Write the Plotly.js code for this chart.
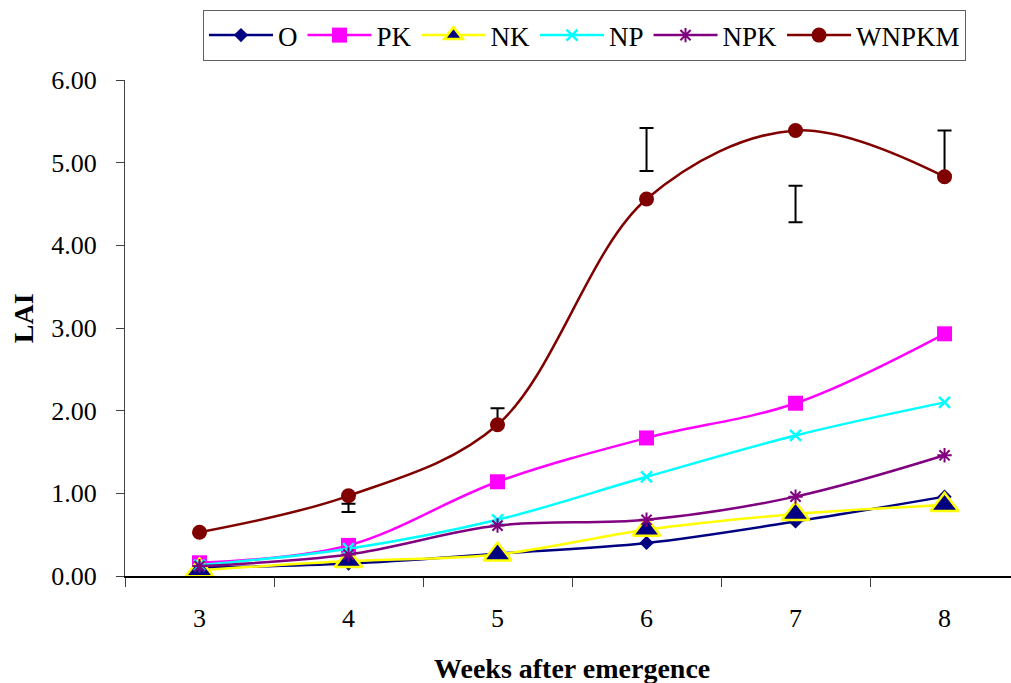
<!DOCTYPE html>
<html>
<head>
<meta charset="utf-8">
<script src="https://cdn.plot.ly/plotly-3.0.1.min.js"></script>
<style>
html,body{margin:0;padding:0;background:#fff;}
#chart{width:1011px;height:683px;}
</style>
</head>
<body>
<div id="chart"></div>
<script>
var weeks = ['3', '4', '5', '6', '7', '8'];
var seriesO     = [0.10, 0.15, 0.27, 0.40, 0.66, 0.96];
var seriesPK    = [0.16, 0.37, 1.14, 1.67, 2.09, 2.93];
var seriesNK    = [0.07, 0.18, 0.26, 0.56, 0.75, 0.86];
var seriesNP    = [0.13, 0.33, 0.68, 1.20, 1.70, 2.10];
var seriesNPK   = [0.12, 0.26, 0.61, 0.68, 0.96, 1.46];
var seriesWNPKM = [0.53, 0.97, 1.83, 4.56, 5.39, 4.83];
var errCenter   = [null, 0.825, 1.93, 5.16, 4.50, 5.12];
var errHalf     = [0, 0.05, 0.10, 0.26, 0.22, 0.27];
var yTicks      = [0, 1, 2, 3, 4, 5, 6];

var serif = 'Liberation Serif';

function line(name, y, color, marker) {
  return {
    type: 'scatter', mode: 'lines+markers', name: name, x: weeks, y: y,
    line: {color: color, width: 2.5, shape: 'spline', smoothing: 1},
    marker: marker
  };
}

var traces = [
  {type: 'scatter', mode: 'markers', x: weeks, y: errCenter, showlegend: false, hoverinfo: 'skip',
   marker: {color: 'rgba(0,0,0,0)', size: 1},
   error_y: {type: 'data', array: errHalf, visible: true, color: '#000', thickness: 2, width: 7}},
  line('O', seriesO, '#000080', {symbol: 'diamond', size: 11, color: '#000080'}),
  line('PK', seriesPK, '#FF00FF', {symbol: 'square', size: 15, color: '#FF00FF'}),
  line('NK', seriesNK, '#FFFF00', {symbol: 'triangle-up', size: 24, color: '#000080', line: {color: '#FFFF00', width: 2.5}}),
  line('NP', seriesNP, '#00FFFF', {symbol: 'x-thin', size: 11, color: '#00FFFF', line: {color: '#00FFFF', width: 2.5}}),
  line('NPK', seriesNPK, '#800080', {symbol: 'asterisk', size: 12, color: '#800080', line: {color: '#800080', width: 2}}),
  line('WNPKM', seriesWNPKM, '#800000', {symbol: 'circle', size: 15, color: '#800000'})
];

var layout = {
  width: 1011, height: 683,
  margin: {l: 125, r: 0, t: 80, b: 107},
  paper_bgcolor: '#fff', plot_bgcolor: '#fff',
  font: {family: serif, size: 26, color: '#000'},
  showlegend: true,
  legend: {
    orientation: 'h', x: 0.5186, xanchor: 'center', y: 1.141, yanchor: 'top',
    bordercolor: '#606060', borderwidth: 1, bgcolor: '#fff',
    font: {family: serif, size: 27, color: '#000'},
    itemwidth: 64, traceorder: 'normal'
  },
  xaxis: {
    type: 'category', categoryorder: 'array', categoryarray: weeks,
    range: [-0.5, 5.446], tickson: 'boundaries',
    showline: true, linecolor: '#000', linewidth: 1.5,
    ticks: 'outside', ticklen: 9, tickcolor: '#404040', tickwidth: 1,
    ticklabelstandoff: 18,
    showgrid: false, zeroline: false,
    tickfont: {family: serif, size: 26, color: '#000'}
  },
  yaxis: {
    range: [0, 6], tickvals: yTicks, tickformat: '.2f',
    showline: true, linecolor: '#404040', linewidth: 1,
    ticks: 'outside', ticklen: 8, tickcolor: '#404040', tickwidth: 1,
    ticklabelstandoff: 14,
    showgrid: false, zeroline: false,
    tickfont: {family: serif, size: 26, color: '#000'}
  },
  annotations: [
    {text: '<b>Weeks after emergence</b>', xref: 'paper', yref: 'paper', x: 0.5045, y: -0.187,
     xanchor: 'center', yanchor: 'middle', showarrow: false, font: {family: serif, size: 28, color: '#000'}},
    {text: '<b>LAI</b>', xref: 'paper', yref: 'paper', x: -0.115, y: 0.52, textangle: -90,
     xanchor: 'center', yanchor: 'middle', showarrow: false, font: {family: serif, size: 28, color: '#000'}}
  ]
};

Plotly.newPlot('chart', traces, layout, {displayModeBar: false, staticPlot: true});
</script>
</body>
</html>
